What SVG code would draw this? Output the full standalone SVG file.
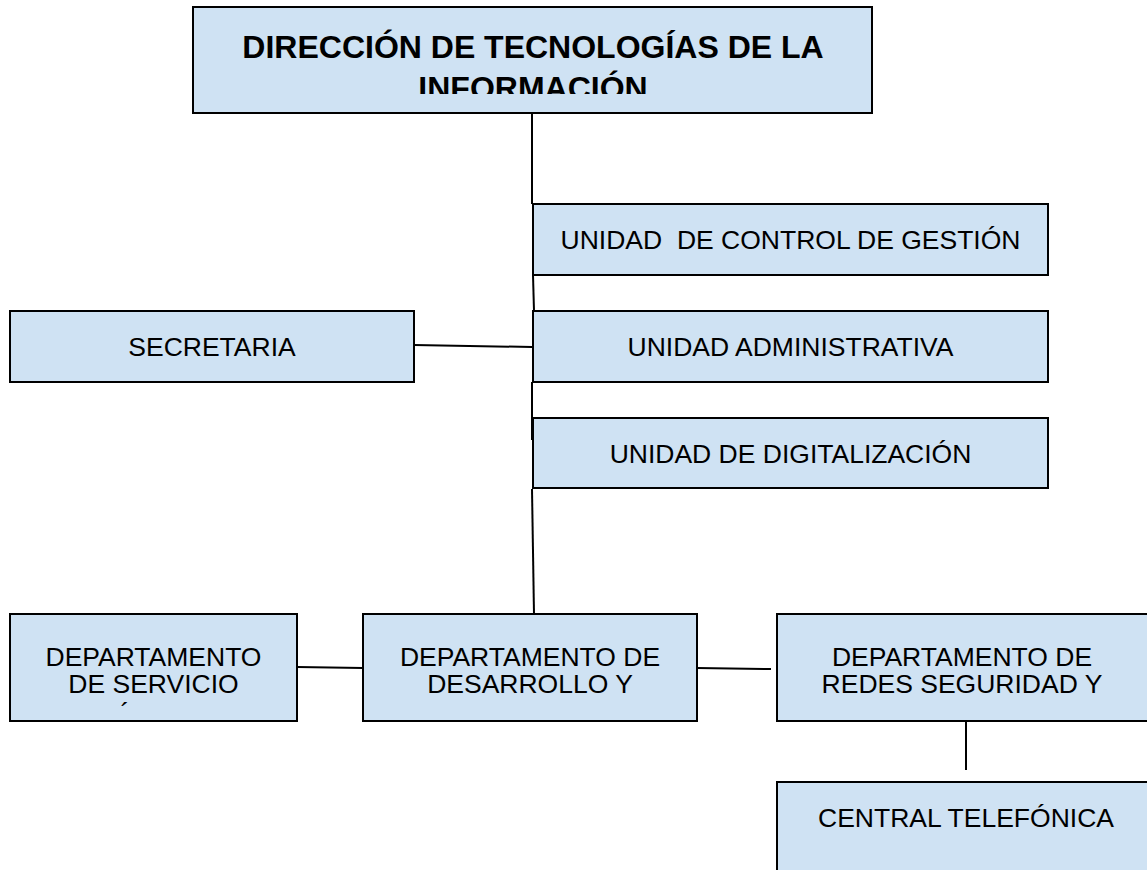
<svg xmlns="http://www.w3.org/2000/svg" width="1147" height="870" viewBox="0 0 1147 870">
  <style>
    .box { fill: #cfe2f3; stroke: #000; stroke-width: 2; }
    .lbl { font-family: "Liberation Sans", Arial, sans-serif; font-size: 26.5px; fill: #000; text-anchor: middle; }
    .ttl { font-family: "Liberation Sans", Arial, sans-serif; font-size: 32px; font-weight: bold; fill: #000; text-anchor: middle; }
    .con { stroke: #000; stroke-width: 2; fill: none; }
  </style>
  <defs>
    <clipPath id="clipTitle"><rect x="193" y="7" width="679" height="87"/></clipPath>
  </defs>
  <rect width="1147" height="870" fill="#fff"/>

  <g id="connectors">
    <line class="con" x1="532" y1="113" x2="532" y2="204"/>
    <line class="con" x1="533" y1="275" x2="534" y2="311"/>
    <line class="con" x1="532" y1="382" x2="532" y2="440"/>
    <line class="con" x1="532" y1="489" x2="534" y2="614"/>
    <line class="con" x1="414" y1="345" x2="532" y2="347"/>
    <line class="con" x1="297" y1="667" x2="363" y2="668"/>
    <line class="con" x1="697" y1="668" x2="771" y2="669"/>
    <line class="con" x1="966" y1="722" x2="966" y2="770"/>
  </g>

  <g id="direccion">
    <rect class="box" x="193" y="7" width="679" height="106"/>
    <g clip-path="url(#clipTitle)">
      <text class="ttl" x="533" y="58">DIRECCIÓN DE TECNOLOGÍAS DE LA</text>
      <text class="ttl" x="533" y="99">INFORMACIÓN</text>
    </g>
  </g>

  <g id="control-gestion">
    <rect class="box" x="533" y="204" width="515" height="71"/>
    <text class="lbl" x="790.5" y="249" xml:space="preserve">UNIDAD  DE CONTROL DE GESTIÓN</text>
  </g>

  <g id="administrativa">
    <rect class="box" x="533" y="311" width="515" height="71"/>
    <text class="lbl" x="790.5" y="356">UNIDAD ADMINISTRATIVA</text>
  </g>

  <g id="digitalizacion">
    <rect class="box" x="533" y="418" width="515" height="70"/>
    <text class="lbl" x="790.5" y="463">UNIDAD DE DIGITALIZACIÓN</text>
  </g>

  <g id="secretaria">
    <rect class="box" x="10" y="311" width="404" height="71"/>
    <text class="lbl" x="212" y="356">SECRETARIA</text>
  </g>

  <g id="servicio">
    <rect class="box" x="10" y="614" width="287" height="107"/>
    <text class="lbl" x="153.5" y="666">DEPARTAMENTO</text>
    <text class="lbl" x="153.5" y="693">DE SERVICIO</text>
    <text class="lbl" x="125" y="721">´</text>
  </g>

  <g id="desarrollo">
    <rect class="box" x="363" y="614" width="334" height="107"/>
    <text class="lbl" x="530" y="666">DEPARTAMENTO DE</text>
    <text class="lbl" x="530" y="693">DESARROLLO Y</text>
  </g>

  <g id="redes">
    <rect class="box" x="777" y="614" width="372" height="107"/>
    <text class="lbl" x="962" y="666">DEPARTAMENTO DE</text>
    <text class="lbl" x="962" y="693">REDES SEGURIDAD Y</text>
  </g>

  <g id="central">
    <rect class="box" x="777" y="782" width="372" height="100"/>
    <text class="lbl" x="966" y="827">CENTRAL TELEFÓNICA</text>
  </g>
</svg>
